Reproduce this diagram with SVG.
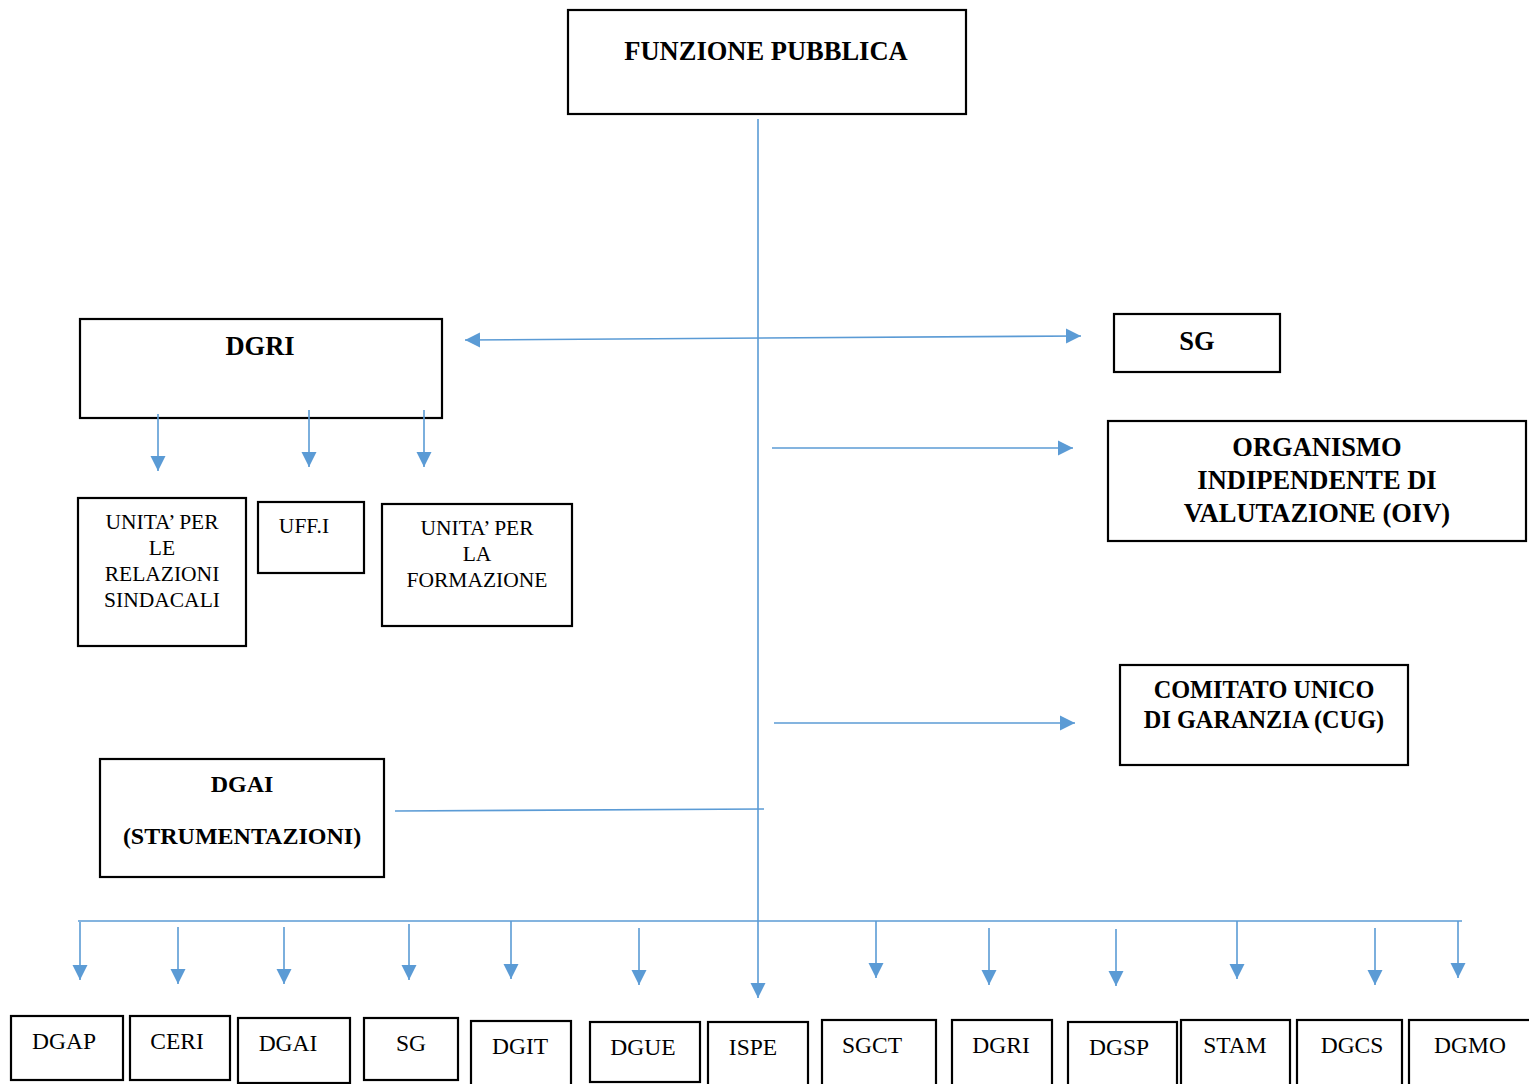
<svg xmlns="http://www.w3.org/2000/svg" width="1529" height="1084" viewBox="0 0 1529 1084">
<defs>
<marker id="ah" markerUnits="userSpaceOnUse" markerWidth="16" markerHeight="16" refX="15" refY="8" orient="auto-start-reverse" viewBox="0 0 16 16">
<path d="M0,0.5 L15,8 L0,15.5 z" fill="#5B9BD5"/>
</marker>
</defs>
<style>
.box{fill:#fff;stroke:#000;stroke-width:2.2}
.t{font-family:"Liberation Serif","Times New Roman",serif;fill:#000;text-anchor:middle}
.b{font-weight:bold;font-size:26.5px}
.r{font-size:23.5px}
.s{font-size:21.5px}
.c{fill:none;stroke:#5B9BD5;stroke-width:1.6}
.a{marker-end:url(#ah)}
</style>
<rect width="1529" height="1084" fill="#fff"/>

<g id="funzione-pubblica">
<rect class="box" x="568" y="10" width="398" height="104"/>
<text class="t b" x="766" y="60">FUNZIONE PUBBLICA</text>
</g>

<g id="dgri">
<rect class="box" x="80" y="319" width="362" height="99"/>
<text class="t b" x="260" y="355">DGRI</text>
</g>

<g id="sg-top">
<rect class="box" x="1114" y="314" width="166" height="58"/>
<text class="t b" x="1197" y="350">SG</text>
</g>

<g id="oiv">
<rect class="box" x="1108" y="421" width="418" height="120"/>
<text class="t b" x="1317" y="456">ORGANISMO</text>
<text class="t b" x="1317" y="489">INDIPENDENTE DI</text>
<text class="t b" x="1317" y="522">VALUTAZIONE (OIV)</text>
</g>

<g id="cug">
<rect class="box" x="1120" y="665" width="288" height="100"/>
<text class="t b" x="1264" y="698" style="font-size:24.3px">COMITATO UNICO</text>
<text class="t b" x="1264" y="728" style="font-size:24.3px">DI GARANZIA (CUG)</text>
</g>

<g id="dgai-top">
<rect class="box" x="100" y="759" width="284" height="118"/>
<text class="t b" x="242" y="792" style="font-size:24px">DGAI</text>
<text class="t b" x="242" y="844" style="font-size:24px">(STRUMENTAZIONI)</text>
</g>

<g id="unita-relazioni">
<rect class="box" x="78" y="498" width="168" height="148"/>
<text class="t s" x="162" y="529">UNITA’ PER</text>
<text class="t s" x="162" y="555">LE</text>
<text class="t s" x="162" y="581">RELAZIONI</text>
<text class="t s" x="162" y="607">SINDACALI</text>
</g>

<g id="uffi">
<rect class="box" x="258" y="502" width="106" height="71"/>
<text class="t s" x="304" y="533">UFF.I</text>
</g>

<g id="unita-formazione">
<rect class="box" x="382" y="504" width="190" height="122"/>
<text class="t s" x="477" y="535">UNITA’ PER</text>
<text class="t s" x="477" y="561">LA</text>
<text class="t s" x="477" y="587">FORMAZIONE</text>
</g>

<g id="dgap"><rect class="box" x="11" y="1016" width="112" height="64"/><text class="t r" x="64" y="1049">DGAP</text></g>
<g id="ceri"><rect class="box" x="130" y="1016" width="100" height="64"/><text class="t r" x="177" y="1049">CERI</text></g>
<g id="dgai"><rect class="box" x="238" y="1018" width="112" height="65"/><text class="t r" x="288" y="1051">DGAI</text></g>
<g id="sg"><rect class="box" x="364" y="1018" width="94" height="62"/><text class="t r" x="411" y="1051">SG</text></g>
<g id="dgit"><rect class="box" x="471" y="1021" width="100" height="70"/><text class="t r" x="520" y="1054">DGIT</text></g>
<g id="dgue"><rect class="box" x="590" y="1022" width="110" height="60"/><text class="t r" x="643" y="1055">DGUE</text></g>
<g id="ispe"><rect class="box" x="708" y="1022" width="100" height="70"/><text class="t r" x="753" y="1055">ISPE</text></g>
<g id="sgct"><rect class="box" x="822" y="1020" width="114" height="70"/><text class="t r" x="872" y="1053">SGCT</text></g>
<g id="dgri-b"><rect class="box" x="952" y="1020" width="100" height="70"/><text class="t r" x="1001" y="1053">DGRI</text></g>
<g id="dgsp"><rect class="box" x="1068" y="1022" width="109" height="70"/><text class="t r" x="1119" y="1055">DGSP</text></g>
<g id="stam"><rect class="box" x="1181" y="1020" width="109" height="70"/><text class="t r" x="1235" y="1053">STAM</text></g>
<g id="dgcs"><rect class="box" x="1297" y="1020" width="105" height="70"/><text class="t r" x="1352" y="1053">DGCS</text></g>
<g id="dgmo"><rect class="box" x="1409" y="1020" width="125" height="70"/><text class="t r" x="1470" y="1053">DGMO</text></g>

<g id="connectors">
<line class="c a" x1="758" y1="119" x2="758" y2="998"/>
<line class="c" x1="78" y1="921" x2="1462" y2="921"/>
<line class="c a" x1="465" y1="340" x2="1081" y2="336" style="marker-start:url(#ah)"/>
<line class="c a" x1="772" y1="448" x2="1073" y2="448"/>
<line class="c a" x1="774" y1="723" x2="1075" y2="723"/>
<line class="c" x1="395" y1="811" x2="764" y2="809"/>
<line class="c a" x1="158" y1="414" x2="158" y2="471"/>
<line class="c a" x1="309" y1="410" x2="309" y2="467"/>
<line class="c a" x1="424" y1="410" x2="424" y2="467"/>
<line class="c a" x1="80" y1="922" x2="80" y2="980"/>
<line class="c a" x1="178" y1="927" x2="178" y2="984"/>
<line class="c a" x1="284" y1="927" x2="284" y2="984"/>
<line class="c a" x1="409" y1="924" x2="409" y2="980"/>
<line class="c a" x1="511" y1="921" x2="511" y2="979"/>
<line class="c a" x1="639" y1="928" x2="639" y2="985"/>
<line class="c a" x1="876" y1="921" x2="876" y2="978"/>
<line class="c a" x1="989" y1="928" x2="989" y2="985"/>
<line class="c a" x1="1116" y1="929" x2="1116" y2="986"/>
<line class="c a" x1="1237" y1="921" x2="1237" y2="979"/>
<line class="c a" x1="1375" y1="928" x2="1375" y2="985"/>
<line class="c a" x1="1458" y1="921" x2="1458" y2="978"/>
</g>
</svg>
